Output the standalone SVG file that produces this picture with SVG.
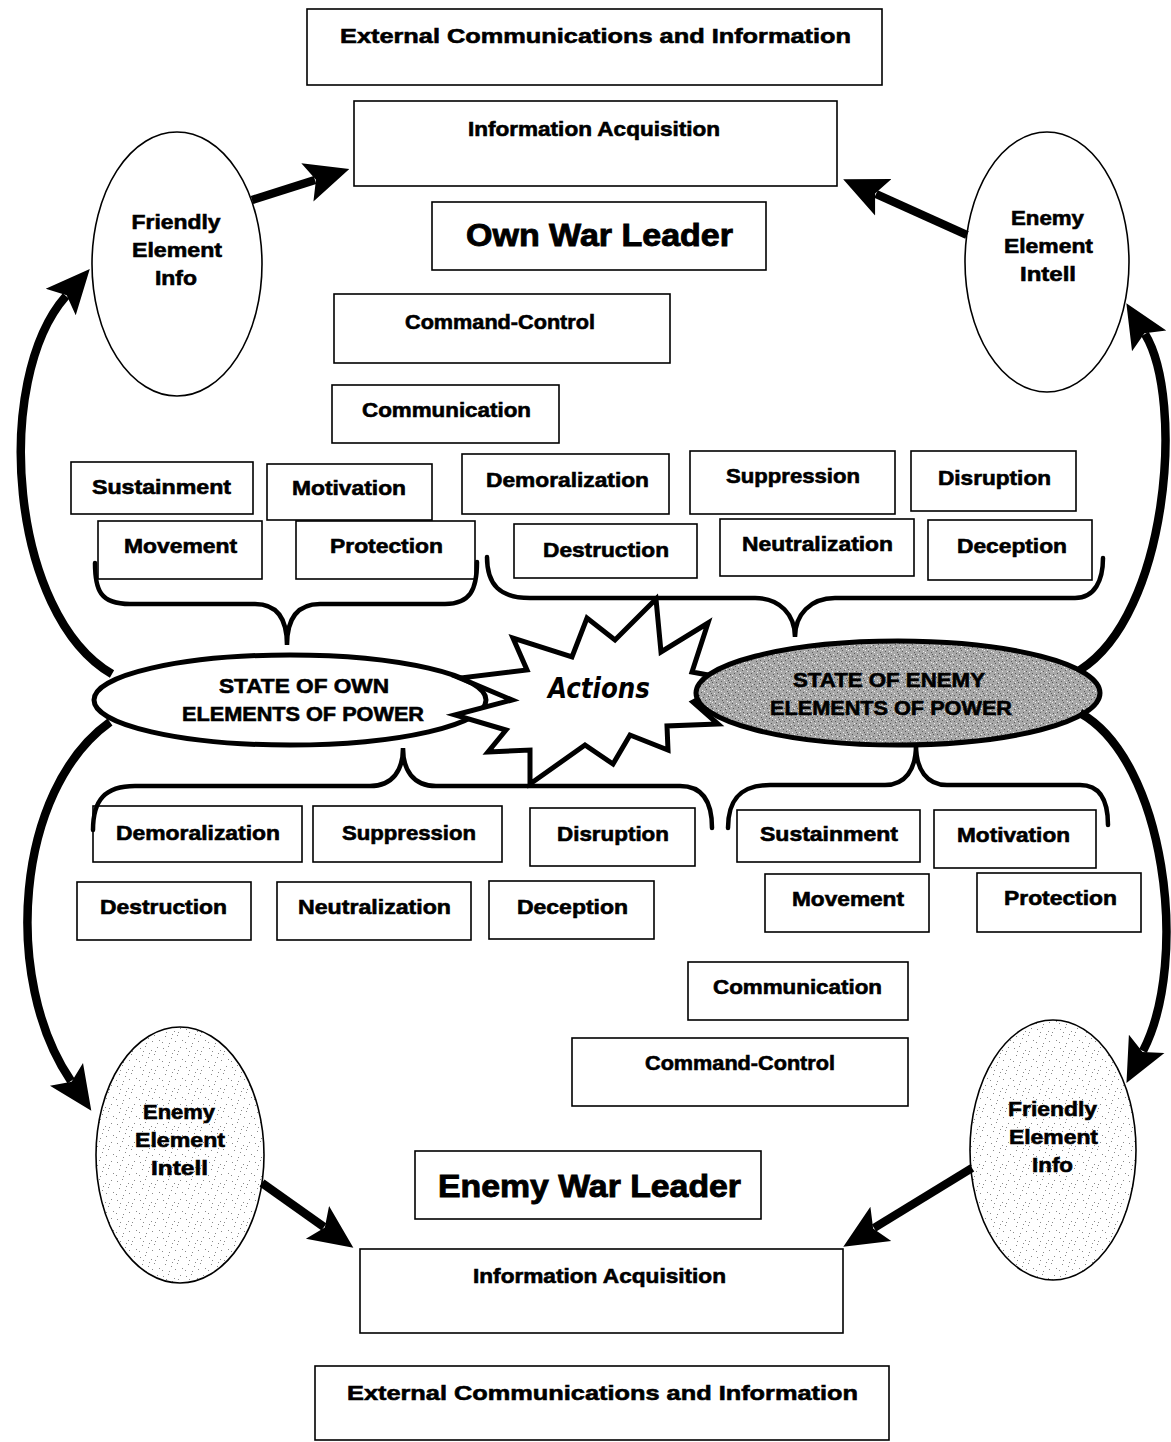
<svg xmlns="http://www.w3.org/2000/svg" width="1171" height="1442" viewBox="0 0 1171 1442">
<style>
.bx{fill:#fff;stroke:#000;stroke-width:1.6}
.t{font-family:"Liberation Sans",Arial,sans-serif;font-weight:bold;font-size:20px;text-anchor:middle;fill:#000;stroke:#000;stroke-width:0.6}
.big{font-size:31px;stroke-width:0.9}
.ext{font-size:21px}
.el{stroke:#000;stroke-width:1.6}
.st{stroke:#000;stroke-width:5}
.arr{fill:none;stroke:#000;stroke-width:8.5}
.br{fill:none;stroke:#000;stroke-width:4.5;stroke-linecap:round}
</style>
<defs>
<marker id="ah" viewBox="0 0 44 42" markerWidth="44" markerHeight="42" refX="8" refY="21" orient="auto" markerUnits="userSpaceOnUse">
<path d="M0,1 L44,21 L0,41 L9,21 z" fill="#000"/>
</marker>
<pattern id="spk" width="23" height="19" patternUnits="userSpaceOnUse">
<rect width="23" height="19" fill="#fff"/>
<g fill="#8a8a8a">
<rect x="2" y="3" width="1" height="1"/><rect x="7" y="1" width="1" height="1"/><rect x="13" y="5" width="1" height="1"/>
<rect x="19" y="2" width="1" height="1"/><rect x="4" y="10" width="1" height="1"/><rect x="10" y="12" width="1" height="1"/>
<rect x="16" y="9" width="1" height="1"/><rect x="21" y="14" width="1" height="1"/><rect x="1" y="16" width="1" height="1"/>
<rect x="8" y="17" width="1" height="1"/><rect x="14" y="15" width="1" height="1"/><rect x="17" y="6" width="1" height="1"/>
<rect x="11" y="8" width="1" height="1"/><rect x="5" y="6" width="1" height="1"/>
</g>
</pattern>
<pattern id="grain" width="17" height="13" patternUnits="userSpaceOnUse">
<rect width="17" height="13" fill="#a8a8a8"/>
<g fill="#5a5a5a">
<rect x="1" y="1" width="1" height="1"/><rect x="4" y="3" width="1" height="1"/><rect x="9" y="0" width="1" height="1"/>
<rect x="13" y="2" width="1" height="1"/><rect x="2" y="6" width="1" height="1"/><rect x="7" y="5" width="1" height="1"/>
<rect x="11" y="7" width="1" height="1"/><rect x="15" y="6" width="1" height="1"/><rect x="3" y="10" width="1" height="1"/>
<rect x="8" y="11" width="1" height="1"/><rect x="12" y="10" width="1" height="1"/><rect x="16" y="11" width="1" height="1"/>
<rect x="6" y="8" width="1" height="1"/><rect x="14" y="4" width="1" height="1"/>
</g>
<g fill="#f0f0f0">
<rect x="0" y="4" width="1" height="1"/><rect x="5" y="1" width="1" height="1"/><rect x="10" y="4" width="1" height="1"/>
<rect x="15" y="0" width="1" height="1"/><rect x="4" y="8" width="1" height="1"/><rect x="9" y="9" width="1" height="1"/>
<rect x="13" y="12" width="1" height="1"/><rect x="1" y="12" width="1" height="1"/><rect x="16" y="8" width="1" height="1"/>
<rect x="7" y="2" width="1" height="1"/><rect x="12" y="6" width="1" height="1"/>
</g>
</pattern>
</defs>

<g id="ext-top"><rect class="bx" x="307" y="9" width="575" height="76"/><text class="t ext" x="595.5" y="43" textLength="511" lengthAdjust="spacingAndGlyphs">External Communications and Information</text></g>
<g id="info-acq-top"><rect class="bx" x="354" y="101" width="483" height="85"/><text class="t" x="594" y="136" textLength="252" lengthAdjust="spacingAndGlyphs">Information Acquisition</text></g>
<g id="own-war-leader"><rect class="bx" x="432" y="202" width="334" height="68"/><text class="t big" x="599.5" y="246" textLength="267" lengthAdjust="spacingAndGlyphs">Own War Leader</text></g>
<g id="cc-top"><rect class="bx" x="334" y="294" width="336" height="69"/><text class="t" x="500" y="329" textLength="190" lengthAdjust="spacingAndGlyphs">Command-Control</text></g>
<g id="comm-top"><rect class="bx" x="332" y="385" width="227" height="58"/><text class="t" x="446.5" y="417" textLength="169" lengthAdjust="spacingAndGlyphs">Communication</text></g>
<g id="sust-top"><rect class="bx" x="71" y="462" width="182" height="52"/><text class="t" x="161.5" y="494" textLength="139" lengthAdjust="spacingAndGlyphs">Sustainment</text></g>
<g id="motiv-top"><rect class="bx" x="267" y="464" width="165" height="56"/><text class="t" x="349" y="495" textLength="114" lengthAdjust="spacingAndGlyphs">Motivation</text></g>
<g id="demor-top"><rect class="bx" x="462" y="454" width="207" height="60"/><text class="t" x="567.5" y="487" textLength="163" lengthAdjust="spacingAndGlyphs">Demoralization</text></g>
<g id="suppr-top"><rect class="bx" x="690" y="451" width="205" height="63"/><text class="t" x="793" y="483" textLength="134" lengthAdjust="spacingAndGlyphs">Suppression</text></g>
<g id="disr-top"><rect class="bx" x="911" y="451" width="165" height="60"/><text class="t" x="994.5" y="485" textLength="113" lengthAdjust="spacingAndGlyphs">Disruption</text></g>
<g id="move-top"><rect class="bx" x="98" y="521" width="164" height="58"/><text class="t" x="180.5" y="553" textLength="113" lengthAdjust="spacingAndGlyphs">Movement</text></g>
<g id="prot-top"><rect class="bx" x="296" y="521" width="179" height="58"/><text class="t" x="386.5" y="553" textLength="113" lengthAdjust="spacingAndGlyphs">Protection</text></g>
<g id="destr-top"><rect class="bx" x="514" y="524" width="183" height="54"/><text class="t" x="606" y="557" textLength="126" lengthAdjust="spacingAndGlyphs">Destruction</text></g>
<g id="neut-top"><rect class="bx" x="720" y="519" width="194" height="57"/><text class="t" x="817.5" y="551" textLength="151" lengthAdjust="spacingAndGlyphs">Neutralization</text></g>
<g id="decep-top"><rect class="bx" x="928" y="520" width="164" height="60"/><text class="t" x="1012" y="553" textLength="110" lengthAdjust="spacingAndGlyphs">Deception</text></g>

<g id="friendly-top"><ellipse class="el" cx="177" cy="264" rx="85" ry="132" fill="#fff"/>
<text class="t" x="176" y="229" textLength="89" lengthAdjust="spacingAndGlyphs">Friendly</text>
<text class="t" x="177" y="257" textLength="90" lengthAdjust="spacingAndGlyphs">Element</text>
<text class="t" x="176" y="285" textLength="42" lengthAdjust="spacingAndGlyphs">Info</text></g>
<g id="enemy-top"><ellipse class="el" cx="1047" cy="262" rx="82" ry="130" fill="#fff"/>
<text class="t" x="1047.5" y="225" textLength="73" lengthAdjust="spacingAndGlyphs">Enemy</text>
<text class="t" x="1048.5" y="253" textLength="89" lengthAdjust="spacingAndGlyphs">Element</text>
<text class="t" x="1048" y="281" textLength="56" lengthAdjust="spacingAndGlyphs">Intell</text></g>

<g id="own-state"><ellipse class="st" cx="290" cy="700" rx="196" ry="45" fill="#fff"/>
<text class="t" x="304" y="693" font-size="19" textLength="170" lengthAdjust="spacingAndGlyphs">STATE OF OWN</text>
<text class="t" x="303" y="721" font-size="19" textLength="242" lengthAdjust="spacingAndGlyphs">ELEMENTS OF POWER</text></g>

<g id="actions"><path class="st" fill="#fff" stroke-linejoin="miter" d="M656,599 L661,652 L708,623 L692,672 L735,680 L693,702 L718,724 L667,726 L668,750 L630,735 L613,764 L585,745 L530,784 L530,750 L488,752 L506,730 L455,715 L512,700 L460,678 L527,670 L513,638 L572,657 L587,618 L615,640 Z"/>
<text x="599" y="698" font-family="'DejaVu Sans',sans-serif" font-style="italic" font-weight="bold" font-size="28" text-anchor="middle" textLength="102" lengthAdjust="spacingAndGlyphs">Actions</text></g>

<g id="enemy-state"><ellipse class="st" cx="898" cy="693" rx="202" ry="52" fill="url(#grain)"/>
<text class="t" x="889" y="687" font-size="19" textLength="192" lengthAdjust="spacingAndGlyphs">STATE OF ENEMY</text>
<text class="t" x="891" y="715" font-size="19" textLength="242" lengthAdjust="spacingAndGlyphs">ELEMENTS OF POWER</text></g>

<g id="demor-bot"><rect class="bx" x="93" y="806" width="209" height="56"/><text class="t" x="198" y="840" textLength="164" lengthAdjust="spacingAndGlyphs">Demoralization</text></g>
<g id="suppr-bot"><rect class="bx" x="313" y="806" width="189" height="56"/><text class="t" x="409" y="840" textLength="134" lengthAdjust="spacingAndGlyphs">Suppression</text></g>
<g id="disr-bot"><rect class="bx" x="530" y="808" width="165" height="58"/><text class="t" x="613" y="841" textLength="112" lengthAdjust="spacingAndGlyphs">Disruption</text></g>
<g id="destr-bot"><rect class="bx" x="77" y="882" width="174" height="58"/><text class="t" x="163.5" y="914" textLength="127" lengthAdjust="spacingAndGlyphs">Destruction</text></g>
<g id="neut-bot"><rect class="bx" x="277" y="882" width="194" height="58"/><text class="t" x="374.5" y="914" textLength="153" lengthAdjust="spacingAndGlyphs">Neutralization</text></g>
<g id="decep-bot"><rect class="bx" x="489" y="881" width="165" height="58"/><text class="t" x="572.5" y="914" textLength="111" lengthAdjust="spacingAndGlyphs">Deception</text></g>
<g id="sust-bot"><rect class="bx" x="737" y="810" width="183" height="52"/><text class="t" x="829" y="841" textLength="138" lengthAdjust="spacingAndGlyphs">Sustainment</text></g>
<g id="motiv-bot"><rect class="bx" x="934" y="810" width="162" height="58"/><text class="t" x="1013.5" y="842" textLength="113" lengthAdjust="spacingAndGlyphs">Motivation</text></g>
<g id="move-bot"><rect class="bx" x="765" y="874" width="164" height="58"/><text class="t" x="848" y="906" textLength="112" lengthAdjust="spacingAndGlyphs">Movement</text></g>
<g id="prot-bot"><rect class="bx" x="977" y="873" width="164" height="59"/><text class="t" x="1060.5" y="905" textLength="113" lengthAdjust="spacingAndGlyphs">Protection</text></g>
<g id="comm-bot"><rect class="bx" x="688" y="962" width="220" height="58"/><text class="t" x="797.5" y="994" textLength="169" lengthAdjust="spacingAndGlyphs">Communication</text></g>
<g id="cc-bot"><rect class="bx" x="572" y="1038" width="336" height="68"/><text class="t" x="740" y="1070" textLength="190" lengthAdjust="spacingAndGlyphs">Command-Control</text></g>
<g id="enemy-war-leader"><rect class="bx" x="415" y="1151" width="346" height="68"/><text class="t big" x="589.5" y="1197" textLength="303" lengthAdjust="spacingAndGlyphs">Enemy War Leader</text></g>
<g id="info-acq-bot"><rect class="bx" x="360" y="1249" width="483" height="84"/><text class="t" x="599.5" y="1283" textLength="253" lengthAdjust="spacingAndGlyphs">Information Acquisition</text></g>
<g id="ext-bot"><rect class="bx" x="315" y="1366" width="574" height="74"/><text class="t ext" x="602.5" y="1400" textLength="511" lengthAdjust="spacingAndGlyphs">External Communications and Information</text></g>

<g id="enemy-bot"><ellipse class="el" cx="180" cy="1155" rx="84" ry="128" fill="url(#spk)"/>
<text class="t" x="179" y="1119" textLength="72" lengthAdjust="spacingAndGlyphs">Enemy</text>
<text class="t" x="180" y="1147" textLength="90" lengthAdjust="spacingAndGlyphs">Element</text>
<text class="t" x="179.5" y="1175" textLength="57" lengthAdjust="spacingAndGlyphs">Intell</text></g>
<g id="friendly-bot"><ellipse class="el" cx="1053" cy="1150" rx="83" ry="130" fill="url(#spk)"/>
<text class="t" x="1052.5" y="1116" textLength="89" lengthAdjust="spacingAndGlyphs">Friendly</text>
<text class="t" x="1053.5" y="1144" textLength="89" lengthAdjust="spacingAndGlyphs">Element</text>
<text class="t" x="1052.5" y="1172" textLength="41" lengthAdjust="spacingAndGlyphs">Info</text></g>

<g id="connectors">
<path class="arr" marker-end="url(#ah)" d="M112,674 C10,615 -8,380 66,296"/>
<path class="arr" marker-end="url(#ah)" d="M1080,670 C1168,615 1185,400 1145,334"/>
<path class="arr" marker-end="url(#ah)" d="M110,722 C15,790 2,980 71,1081"/>
<path class="arr" marker-end="url(#ah)" d="M1080,713 C1165,760 1190,960 1143,1051"/>
<path class="arr" marker-end="url(#ah)" d="M252,200 L315,180"/>
<path class="arr" marker-end="url(#ah)" d="M967,235 L876,194"/>
<path class="arr" marker-end="url(#ah)" d="M262,1183 L324,1227"/>
<path class="arr" marker-end="url(#ah)" d="M972,1168 L874,1228"/>
<path class="br" d="M95,563 C95,590 100,604 130,604 L255,604 C278,604 287,620 287,645 C287,620 296,604 320,604 L445,604 C470,604 477,590 477,562"/>
<path class="br" d="M487,557 C487,585 500,598 530,598 L755,598 C780,598 795,615 795,637 C795,615 810,598 835,598 L1075,598 C1095,598 1103,580 1103,558"/>
<path class="br" d="M93,830 C93,800 105,786 135,786 L370,786 C393,786 403,770 403,748 C403,770 413,786 436,786 L680,786 C705,786 712,805 712,828"/>
<path class="br" d="M728,828 C728,800 740,785 770,785 L885,785 C905,785 916,770 916,745 C916,770 927,785 947,785 L1080,785 C1100,785 1108,800 1108,825"/>
</g>
</svg>
